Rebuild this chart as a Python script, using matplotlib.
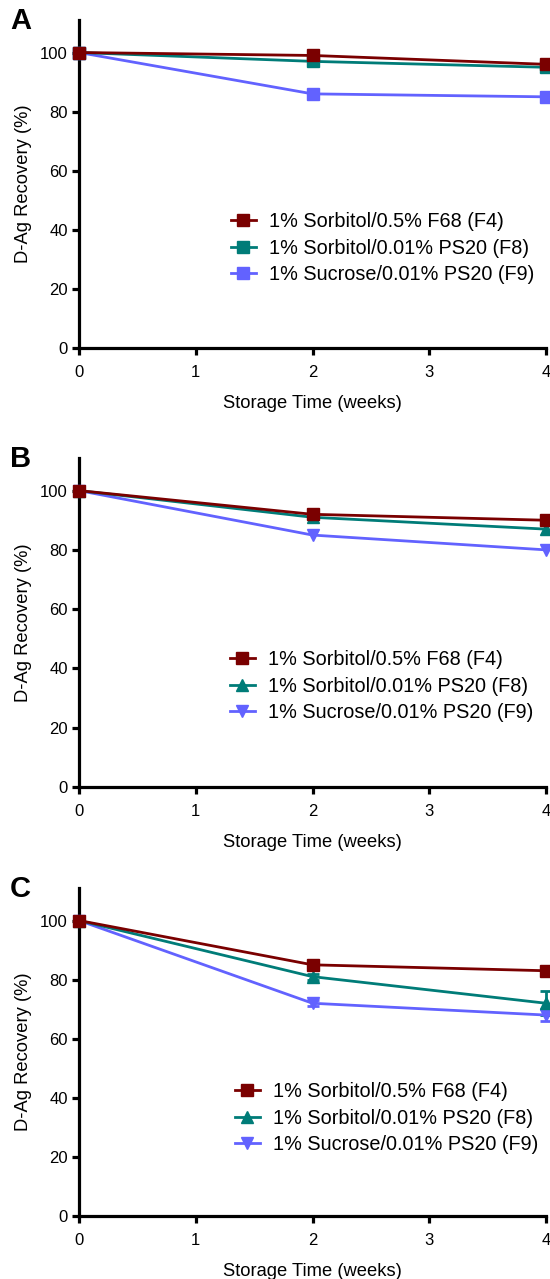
import matplotlib
matplotlib.use("Agg")
import matplotlib.pyplot as plt
from matplotlib.lines import Line2D

plt.rcParams['font.family'] = ['Liberation Sans', 'DejaVu Sans']

weeks = [0, 2, 4]
series_names = ["1% Sorbitol/0.5% F68 (F4)", "1% Sorbitol/0.01% PS20 (F8)", "1% Sucrose/0.01% PS20 (F9)"]
colors = ["#7A0000", "#007C78", "#6262FF"]

panel_A = [[100, 99, 96], [100, 97, 95], [100, 86, 85]]
panel_B = [[100, 92, 90], [100, 91, 87], [100, 85, 80]]
panel_C = [[100, 85, 83], [100, 81, 72], [100, 72, 68]]
err_C = [[0, 0.5, 0.5], [0, 1, 4], [0, 1, 2]]

markers_A = ["s", "s", "s"]
markers_BC = ["s", "^", "v"]

yticks = [0, 20, 40, 60, 80, 100]
xticks = [0, 1, 2, 3, 4]

fig = plt.figure(figsize=(5.5, 12.79), dpi=100)

H = 1279.0
W = 550.0
left = 79 / W
width = 467 / W
panels = [
    ("A", panel_A, markers_A, None, 348, 20, 248, 231),
    ("B", panel_B, markers_BC, None, 787, 458, 686, 230),
    ("C", panel_C, markers_BC, err_C, 1216, 888, 1118, 235),
]

for label, data, mks, errs, y0, ytop, legy, legx in panels:
    ax = fig.add_axes([left, 1 - y0 / H, width, (y0 - ytop) / H])
    for i, vals in enumerate(data):
        ax.errorbar(weeks, vals, yerr=(errs[i] if errs else None), color=colors[i],
                    marker=mks[i], markersize=8, linewidth=2.0, capsize=4,
                    elinewidth=2.0, capthick=2.0, clip_on=False, zorder=3 - i * 0.1,
                    label=series_names[i])
    ax.set_xlim(0, 4)
    ax.set_ylim(0, 111)
    ax.set_xticks(xticks)
    ax.set_yticks(yticks)
    for s in ["top", "right"]:
        ax.spines[s].set_visible(False)
    for s in ["left", "bottom"]:
        ax.spines[s].set_linewidth(2.3)
    ax.tick_params(direction="out", length=5, width=2.3, labelsize=12)
    ax.tick_params(axis="x", pad=7)
    ax.tick_params(axis="y", pad=3)
    ax.set_xlabel("Storage Time (weeks)", fontsize=13.2, labelpad=11)
    ax.set_ylabel("D-Ag Recovery (%)", fontsize=13.2, labelpad=6)
    handles = [Line2D([0], [0], color=colors[i], marker=mks[i], markersize=8, linewidth=2.0)
               for i in range(3)]
    fig.legend(handles, series_names, loc="center left",
               bbox_to_anchor=(legx / W, 1 - legy / H), frameon=False, fontsize=14.3,
               handlelength=1.25, handletextpad=0.65, labelspacing=0.38, borderpad=0,
               borderaxespad=0)
    fig.text(10 / W, 1 - (ytop + 1) / H, label, fontsize=21, fontweight="bold",
             va="center", ha="left")

fig.savefig("out.png", dpi=100)
